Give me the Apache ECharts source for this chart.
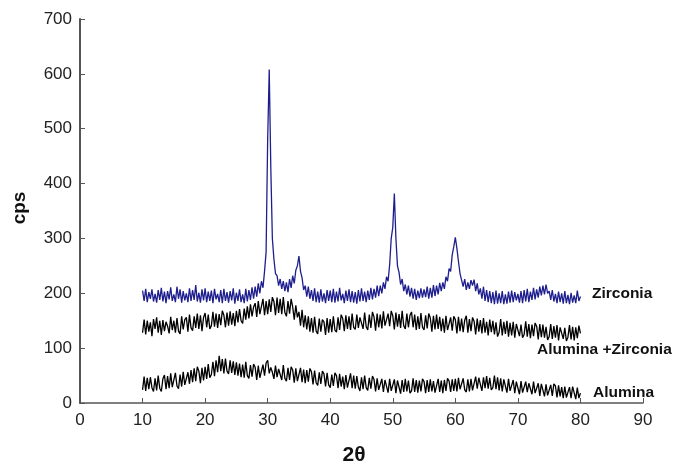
<!DOCTYPE html>
<html>
<head>
<meta charset="utf-8">
<script src="https://cdn.jsdelivr.net/npm/echarts@6/dist/echarts.min.js"></script>
<style>html,body{margin:0;padding:0;background:#fff}#c{width:676px;height:466px}</style>
</head>
<body>
<div id="c"></div>
<script>
// 2-theta sampling grid: 10.00 .. 80.00, step 0.25
const X_START = 10, X_STEP = 0.25;
const xTicks = [0,10,20,30,40,50,60,70,80,90];
const yTicks = [0,100,200,300,400,500,600,700];
const seriesNames = ['Zirconia','Alumina +Zirconia','Alumina'];

const zirconia = [
205,186,208,184, 202,190,207,185, 199,183,206,188, 210,185,203,182,
204,189,211,186, 198,184,212,190, 207,183,204,187, 200,184,209,186,
206,188,215,185, 201,183,207,187, 209,184,203,186, 205,182,208,189,
199,184,206,182, 208,186,202,183, 204,187,209,181, 201,186,207,184,
198,182,208,185, 206,188,211,190, 212,194,218,200, 222,210,240,275,
480,608,430,300, 262,236,232,214, 226,208,222,204, 220,202,226,210,
232,218,242,250, 268,240,228,206, 214,194,212,190, 206,186,209,184,
203,183,207,185, 200,182,206,186, 205,184,208,183, 203,185,210,187,
199,182,205,186, 207,184,204,183, 202,181,206,185, 209,186,203,184,
205,188,210,189, 208,192,214,195, 214,200,220,208, 230,222,252,300,
320,382,300,250, 238,216,226,204, 216,198,214,194, 210,190,208,188,
205,191,209,192, 207,193,212,190, 210,192,215,195, 214,198,219,204,
220,208,230,222, 245,240,270,285, 302,282,258,236, 234,212,226,206,
220,208,224,214, 225,204,218,198, 209,190,212,186, 206,184,204,182,
202,180,205,181, 200,182,204,180, 198,181,203,183, 205,184,202,187,
199,183,204,182, 206,185,208,184, 203,188,210,189, 207,192,212,196,
214,198,216,200, 204,188,206,185, 199,182,203,184, 200,181,204,182,
197,180,201,183, 196,182,205,186, 194
];

const aluminaZirconia = [
128,152,125,150, 130,147,122,153, 135,156,128,150, 124,151,131,148,
140,127,157,133, 150,128,155,131, 126,158,134,152, 156,130,161,137,
132,158,137,163, 135,160,131,156, 164,138,161,135, 141,166,139,163,
137,162,142,168, 160,138,165,141, 167,143,164,140, 168,147,171,150,
145,172,152,176, 154,180,158,175, 182,157,186,162, 165,190,160,186,
162,189,166,193, 185,160,192,164, 190,162,193,165, 158,186,163,190,
175,152,178,156, 166,141,170,138, 160,134,158,130, 155,128,157,131,
126,154,130,152, 148,124,155,128, 153,129,158,133, 129,156,133,161,
154,131,160,135, 158,133,163,138, 134,161,137,156, 159,135,165,139,
133,161,137,166, 157,132,163,138, 161,136,167,141, 138,163,140,168,
159,134,165,139, 162,137,168,141, 135,163,138,160, 166,138,161,133,
158,135,164,138, 133,160,136,163, 155,130,159,134, 161,135,157,131,
154,128,159,133, 130,156,132,158, 152,127,157,131, 154,129,151,159,
128,153,131,156, 149,125,154,130, 151,127,155,128, 148,123,152,129,
150,125,147,121, 129,153,123,148, 126,150,121,146, 123,148,119,144,
147,122,143,119, 125,149,121,144, 118,143,122,146, 140,116,144,120,
143,119,139,115, 121,144,117,140, 119,142,114,138, 141,117,137,113,
120,142,116,139, 114,138,118,141, 127
];

const alumina = [
24,48,22,46, 25,47,28,21, 45,23,50,27, 21,44,51,25,
49,27,54,29, 28,55,31,26, 52,30,57,33, 31,56,35,60,
38,63,40,66, 58,36,64,41, 66,44,71,46, 52,75,49,78,
56,86,58,80, 54,81,58,53, 78,55,76,51, 74,50,72,47,
70,46,75,50, 45,69,48,71, 65,42,68,46, 44,70,50,73,
78,54,65,56, 44,68,47,62, 65,42,69,45, 40,64,42,66,
60,37,63,40, 42,64,38,61, 36,60,39,63, 57,34,59,37,
32,56,35,58, 53,30,55,33, 28,52,31,55, 50,27,53,30,
48,25,51,28, 30,54,27,50, 26,49,29,22, 47,25,50,28,
23,46,26,49, 43,21,45,24, 22,44,20,42, 41,19,44,22,
21,43,18,41, 39,17,42,20, 44,21,41,18, 22,45,20,42,
19,41,21,44, 39,18,42,20, 43,21,40,19, 22,44,20,41,
18,42,22,45, 40,20,43,22, 44,21,46,25, 22,45,24,20,
43,21,44,23, 25,48,26,46, 44,22,47,27, 49,26,46,24,
28,50,25,47, 23,45,21,43, 41,19,44,22, 20,42,18,39,
38,16,40,19, 17,39,20,36, 37,16,39,18, 15,36,13,35,
33,12,34,14, 11,33,13,35, 31,10,32,12, 29,9,30,10,
8,29,9,30, 27,7,28,9, 18
];

function pairs(vals){ return vals.map((v,i)=>[X_START + i*X_STEP, v]); }

const chart = echarts.init(document.getElementById('c'), null, {renderer:'canvas'});
const axisColor = '#555';
const labelFont = {color:'#222', fontSize:17, fontFamily:'Liberation Sans, Arial, sans-serif'};
const boldFont = 'bold 15.5px Liberation Sans, Arial, sans-serif';
chart.setOption({
  animation:false,
  backgroundColor:'#fff',
  grid:{left:80, right:33, top:19, bottom:63, containLabel:false},
  xAxis:{
    type:'value', min:xTicks[0], max:xTicks[xTicks.length-1], interval:10,
    axisLine:{show:true, lineStyle:{color:axisColor, width:1.5}},
    axisTick:{show:true, inside:true, length:5, lineStyle:{color:axisColor}},
    splitLine:{show:false},
    axisLabel:Object.assign({margin:9}, labelFont)
  },
  yAxis:{
    type:'value', min:yTicks[0], max:yTicks[yTicks.length-1], interval:100,
    axisLine:{show:true, lineStyle:{color:axisColor, width:2}},
    axisTick:{show:true, inside:true, length:5, lineStyle:{color:axisColor}},
    splitLine:{show:false},
    axisLabel:Object.assign({margin:8}, labelFont)
  },
  series:[
    {name:seriesNames[2], type:'line', data:pairs(alumina), showSymbol:false, symbol:'none',
     lineStyle:{color:'#000', width:1.3}, z:2},
    {name:seriesNames[1], type:'line', data:pairs(aluminaZirconia), showSymbol:false, symbol:'none',
     lineStyle:{color:'#000', width:1.3}, z:3},
    {name:seriesNames[0], type:'line', data:pairs(zirconia), showSymbol:false, symbol:'none',
     lineStyle:{color:'#1e1e8e', width:1.3}, z:4}
  ],
  graphic:[
    {type:'text', x:592, y:294, style:{text:seriesNames[0], font:boldFont, fill:'#111', verticalAlign:'middle'}},
    {type:'text', x:537, y:350, style:{text:seriesNames[1], font:boldFont, fill:'#111', verticalAlign:'middle'}},
    {type:'text', x:593, y:393, style:{text:seriesNames[2], font:boldFont, fill:'#111', verticalAlign:'middle'}},
    {type:'text', x:20, y:208, rotation:Math.PI/2,
     style:{text:'cps', font:'bold 19px Liberation Sans, Arial, sans-serif', fill:'#111', align:'center', verticalAlign:'middle'}},
    {type:'text', x:354, y:455, style:{text:'2θ', font:'bold 21px Liberation Sans, Arial, sans-serif', fill:'#111', align:'center', verticalAlign:'middle'}}
  ]
});
</script>
</body>
</html>
